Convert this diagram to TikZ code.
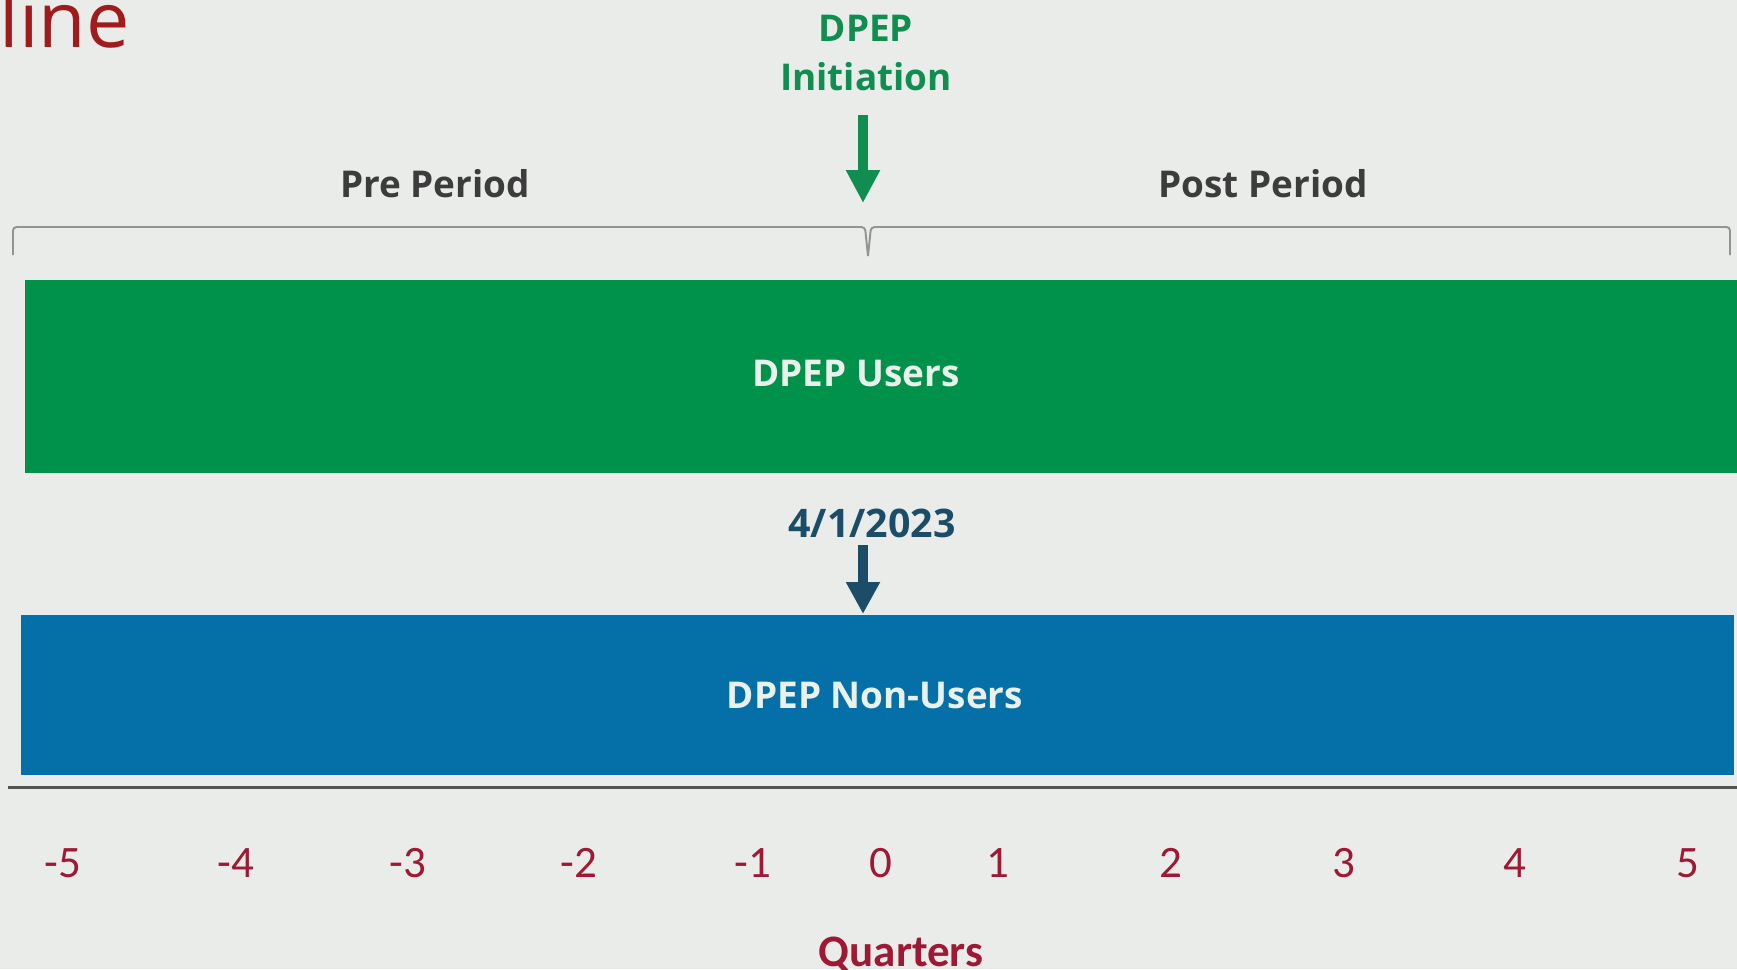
\documentclass[tikz,border=0pt]{standalone}
\usepackage{fontspec}
\setmainfont{Open Sans}
\newfontfamily\calfont{Carlito}
\usetikzlibrary{arrows.meta,positioning,calc}
\definecolor{paper}{HTML}{E9ECE9}
\definecolor{titlered}{HTML}{A01C1C}
\definecolor{initgreen}{HTML}{0F8E50}
\definecolor{usergreen}{HTML}{00914A}
\definecolor{datenavy}{HTML}{1B4D68}
\definecolor{nonblue}{HTML}{0570A8}
\definecolor{periodgray}{HTML}{3C3C3C}
\definecolor{qred}{HTML}{9E1A34}
\definecolor{bartext}{HTML}{E9F1EC}

\begin{document}
\begin{tikzpicture}[
  lbl/.style={inner sep=0pt,font=\bfseries\fontsize{10.5}{14.2}\selectfont},
  bar/.style={inner sep=0pt,minimum width=17.13cm},
  barlbl/.style={lbl,text=bartext},
  qnum/.style={inner sep=0pt,anchor=base,text=qred,font=\calfont\fontsize{12.8}{15}\selectfont},
  brace/.style={draw=gray!85,line width=0.55pt,rounded corners=1pt},
  garr/.style={-{Triangle[length=0.33cm,width=0.32cm]},initgreen,line width=0.1cm},
  darr/.style={-{Triangle[length=0.32cm,width=0.32cm]},datenavy,line width=0.1cm}]
\fill[paper] (0,0) rectangle (17.37,-9.69);
\useasboundingbox (0,0) rectangle (17.37,-9.69);
% heading, cut at the edge
\node[anchor=base west,inner sep=0pt,text=titlered,font=\fontsize{22}{26}\selectfont] (title) at (-0.01,-0.47) {line};
% initiation marker
\node[lbl,text=initgreen,align=center,anchor=south] (init) at (8.66,-0.92) {DPEP\\Initiation};
\coordinate (notch) at (8.63,-2.03);
\draw[garr] (notch |- 0,-1.15) -- (notch);
% periods
\node[lbl,text=periodgray,anchor=base] (pre) at (4.35,-1.97) {Pre Period};
\node[lbl,text=periodgray,anchor=base] (post) at (12.63,-1.97) {Post Period};
\coordinate (bl) at (0.13,-2.27);
\coordinate (bm) at (8.68,-2.27);
\coordinate (br) at (17.30,-2.27);
\draw[brace] ($(bl)+(0,-0.28)$) -- (bl) -- ($(bm)+(-0.03,0)$) -- ($(bm)+(0,-0.29)$);
\draw[brace] ($(bm)+(0,-0.29)$) -- ($(bm)+(0.03,0)$) -- (br) -- ($(br)+(0,-0.28)$);
% groups
\node[bar,fill=usergreen,minimum height=1.93cm,anchor=north west] (users) at (0.24,-2.79) {};
\node[barlbl] (userslbl) at (8.56,-3.73) {DPEP Users};
\node[lbl,text=datenavy,anchor=base,font=\bfseries\fontsize{11.2}{14}\selectfont] (date) at (8.72,-5.37) {4/1/2023};
\node[bar,fill=nonblue,minimum height=1.60cm,anchor=north west] (nonusers) at (0.20,-6.14) {};
\node[barlbl] (nonuserslbl) at (8.75,-6.95) {DPEP Non-Users};
\draw[darr] ([yshift=-0.8mm]date.base -| notch) -- (notch |- nonusers.north);
% quarter axis
\coordinate (ax0) at (0.08,-7.87);
\coordinate (ax1) at (17.37,-7.87);
\draw[draw=black!68,line width=0.85pt] (ax0) -- (ax1);
\foreach \q/\x in {-5/0.63,-4/2.36,-3/4.08,-2/5.79,-1/7.53,0/8.81,1/9.98,2/11.71,3/13.44,4/15.15,5/16.88}
  \node[qnum] (q\q) at (\x,-8.77) {\q};
\node[qnum,font=\calfont\bfseries\fontsize{12.8}{15}\selectfont] (quarters) at (9.01,-9.66) {Quarters};
\end{tikzpicture}
\end{document}
